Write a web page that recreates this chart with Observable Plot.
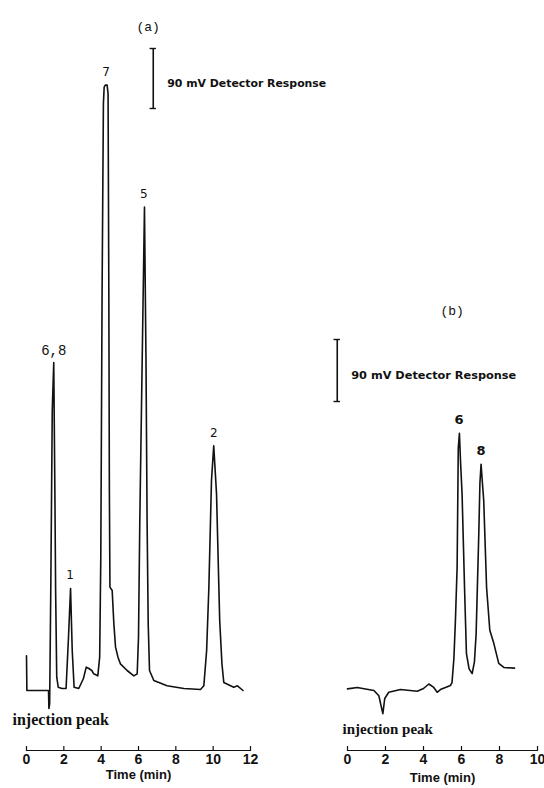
<!DOCTYPE html>
<html><head><meta charset="utf-8">
<script src="https://cdn.jsdelivr.net/npm/d3@7"></script>
<script src="https://cdn.jsdelivr.net/npm/@observablehq/plot@0.6"></script>
<style>
html,body{margin:0;padding:0;background:#fff;}
#wrap{position:relative;width:544px;height:788px;overflow:hidden;}
#wrap svg{position:absolute;left:0;top:0;}
g[font-family*="Narrow"]{font-stretch:condensed;}
</style></head><body><div id="wrap"></div>
<script>
// Panel (a) chromatogram: time (min) and detector response (mV above baseline)
const timeA = [0, 0.02, 1.15, 1.18, 1.2, 1.24, 1.3, 1.38, 1.46, 1.52, 1.56, 1.62, 1.7, 1.9, 2.12, 2.25, 2.36, 2.45, 2.55, 2.8, 3.05, 3.2, 3.34, 3.5, 3.6, 3.82, 3.92, 3.98, 4.05, 4.12, 4.16, 4.22, 4.32, 4.37, 4.41, 4.44, 4.47, 4.59, 4.68, 4.77, 4.9, 5.03, 5.39, 5.75, 5.93, 6.0, 6.07, 6.2, 6.32, 6.4, 6.46, 6.52, 6.59, 6.82, 7.53, 8.43, 9.32, 9.5, 9.65, 9.77, 9.91, 10.03, 10.18, 10.35, 10.47, 10.57, 11.1, 11.3, 11.6];
const respA = [52, 0, 0, 0, -27, -20, 150, 420, 492, 300, 150, 20, 5, 3, 3, 80, 153, 60, 5, 3, 18, 35, 33, 30, 25, 22, 50, 200, 600, 880, 905, 908, 908, 895, 600, 300, 155, 150, 100, 65, 50, 40, 30, 22, 25, 80, 255, 500, 725, 500, 255, 100, 30, 15, 7, 3, 1.5, 7, 60, 155, 315, 367, 295, 105, 40, 12, 5, 7, 0];
const peakLabelsA = ["6,8", "1", "7", "5", "2"];
const peakTimesA = [1.46, 2.33, 4.26, 6.29, 10.03];
const peakHeightsA = [492, 153, 908, 725, 367];
const ticksA = [0, 2, 4, 6, 8, 10, 12];
const scaleBarA = {t: 6.79, from: 873, to: 963};

// Panel (b) chromatogram
const timeB = [0, 0.51, 1.39, 1.65, 1.86, 1.96, 2.17, 2.79, 3.67, 4.0, 4.28, 4.54, 4.72, 4.89, 5.42, 5.5, 5.6, 5.68, 5.77, 5.83, 5.89, 5.95, 6.03, 6.16, 6.26, 6.4, 6.56, 6.68, 6.77, 6.91, 6.97, 7.03, 7.1, 7.17, 7.32, 7.49, 7.7, 7.96, 8.23, 8.79];
const respB = [1, 3, -1.5, -9, -35, -13, -4, 0, -2.5, 1.5, 8, 3, -4, 0, 6, 10, 45, 100, 178, 350, 372, 330, 284, 148, 52, 30, 23, 40, 81, 226, 300, 327, 300, 274, 148, 86, 67, 38, 32, 31];
const peakLabelsB = ["6", "8"];
const peakTimesB = [5.87, 7.03];
const peakHeightsB = [372, 327];
const ticksB = [0, 2, 4, 6, 8, 10];
const scaleBarB = {t: -0.54, from: 418, to: 508};

const scaleText = "90 mV Detector Response";
const axisTitle = "Time (min)";
const injText = "injection peak";

const sansBold = "'DejaVu Sans', Verdana, sans-serif";
const narrow = "'Liberation Sans Narrow', 'Liberation Sans', Arial, sans-serif";
const mono = "'Liberation Mono', 'DejaVu Sans Mono', monospace";
const serif = "'Liberation Serif', 'Times New Roman', serif";

function panel({time, resp, labels, ptimes, pheights, ticks, bar, xDomain, yDomain, mLeft, mRight, title, titleDx, titleDy, labelFont, labelSize, labelWeight, scaleSize, injDx, injDy, injSize, axisDy}) {
  const pts = time.map((t, i) => ({t, v: resp[i]}));
  const peaks = labels.map((l, i) => ({l, t: ptimes[i], v: pheights[i]}));
  const isMono = (l) => l.includes(",");
  return Plot.plot({
    width: 544, height: 788,
    marginLeft: mLeft, marginRight: mRight, marginTop: 0, marginBottom: 38,
    x: {domain: xDomain, axis: null},
    y: {domain: yDomain, axis: null},
    style: {background: "transparent", overflow: "visible"},
    marks: [
      Plot.frame({anchor: "bottom", stroke: "#111", strokeWidth: 1.2}),
      Plot.tickX(ticks, {x: d => d, stroke: "#111", strokeWidth: 1.2, insetTop: 746}),
      Plot.text(ticks, {x: d => d, frameAnchor: "bottom", dy: 13, text: d => String(d), fontFamily: narrow, fontWeight: "bold", fontSize: 14, fill: "#111"}),
      Plot.text([axisTitle], {frameAnchor: "bottom", dy: axisDy, fontFamily: narrow, fontWeight: "bold", fontSize: 13, fill: "#111"}),
      Plot.line(pts, {x: "t", y: "v", stroke: "#111", strokeWidth: 1.6, strokeLinejoin: "round"}),
      Plot.text(peaks.filter(d => !isMono(d.l)), {x: "t", y: "v", text: "l", dy: -13, fontFamily: labelFont, fontSize: labelSize, fontWeight: labelWeight, fill: "#111"}),
      Plot.text(peaks.filter(d => isMono(d.l)), {x: "t", y: "v", text: "l", dy: -12, fontFamily: mono, fontSize: 14, fill: "#111"}),
      Plot.ruleX([bar], {x: "t", y1: "from", y2: "to", stroke: "#111", strokeWidth: 1.6}),
      Plot.ruleY([bar], {x1: d => d.t - 0.17, x2: d => d.t + 0.17, y: "from", stroke: "#111", strokeWidth: 1.4}),
      Plot.ruleY([bar], {x1: d => d.t - 0.17, x2: d => d.t + 0.17, y: "to", stroke: "#111", strokeWidth: 1.4}),
      Plot.text([bar], {x: "t", y: d => (d.from + d.to) / 2, text: () => scaleText, textAnchor: "start", dx: 14, dy: 5, fontFamily: sansBold, fontWeight: "bold", fontSize: scaleSize, fill: "#111"}),
      Plot.text([title], {frameAnchor: "top-left", dx: titleDx, dy: titleDy, fontFamily: mono, fontSize: 13, fill: "#111"}),
      Plot.text([injText], {frameAnchor: "bottom-left", dx: injDx, dy: injDy, textAnchor: "start", fontFamily: serif, fontWeight: "bold", fontSize: injSize, fill: "#111"})
    ]
  });
}

const wrap = document.getElementById("wrap");
wrap.appendChild(panel({
  time: timeA, resp: respA, labels: peakLabelsA, ptimes: peakTimesA, pheights: peakHeightsA,
  ticks: ticksA, bar: scaleBarA, xDomain: [0, 12], yDomain: [-90, 1035],
  mLeft: 26, mRight: 294, title: "(a)", titleDx: 110, titleDy: 21,
  labelFont: sansBold, labelSize: 12, labelWeight: "normal", scaleSize: 10.9,
  injDx: -14, injDy: -26, injSize: 16, axisDy: 28
}));
wrap.appendChild(panel({
  time: timeB, resp: respB, labels: peakLabelsB, ptimes: peakTimesB, pheights: peakHeightsB,
  ticks: ticksB, bar: scaleBarB, xDomain: [0, 10], yDomain: [-88.5, 1000],
  mLeft: 347, mRight: 7, title: "(b)", titleDx: 93, titleDy: 305,
  labelFont: sansBold, labelSize: 13, labelWeight: "bold", scaleSize: 11.3,
  injDx: -5, injDy: -17, injSize: 15, axisDy: 31
}));
</script></body></html>
